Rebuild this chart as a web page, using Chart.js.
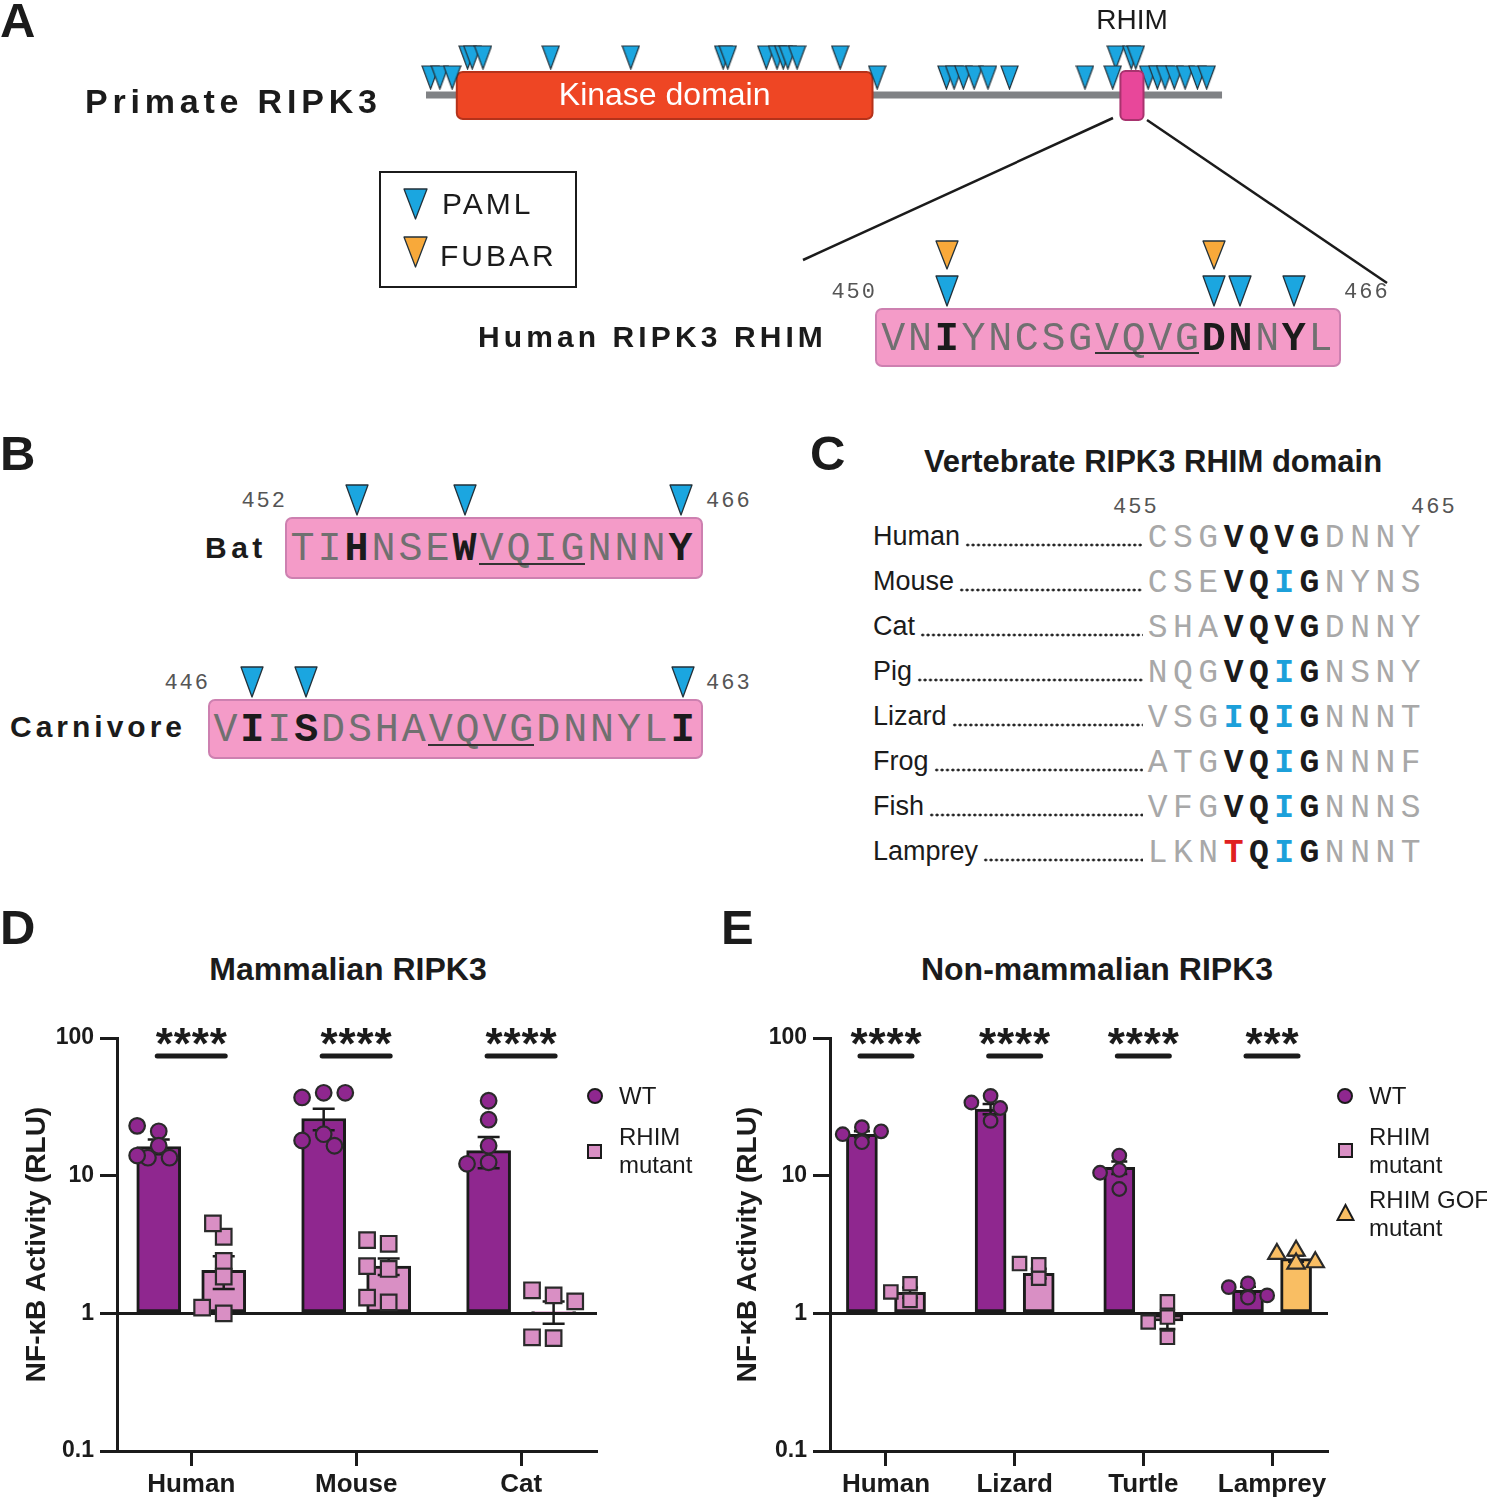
<!DOCTYPE html>
<html>
<head>
<meta charset="utf-8">
<title>RIPK3 RHIM figure</title>
<script src="https://cdn.jsdelivr.net/npm/chart.js@4.4.1/dist/chart.umd.min.js"></script>
<style>
  body { margin: 0; background: #fff; }
  #page { position: relative; width: 1487px; height: 1500px; overflow: hidden;
          font-family: "Liberation Sans", Arial, Helvetica, sans-serif; color: #1b1b1b; }
  .t { position: absolute; white-space: nowrap; }
  .mono { font-family: "Liberation Mono", "Courier New", monospace; }
  .seqbox { position: absolute; box-sizing: border-box; background: #f49bc8;
            border: 2.5px solid #cd80b0; border-radius: 7px; }
  canvas { position: absolute; }
  svg { display: block; }
</style>
</head>
<body>
<div id="page">
  <canvas id="domainChart" width="860" height="130" style="left:400px;top:0"></canvas>
  <svg class="t" style="left:0;top:0" width="1487" height="400">
    <line x1="1113" y1="118" x2="803" y2="260" stroke="#1b1b1b" stroke-width="2.5"/>
    <line x1="1147" y1="120" x2="1387" y2="283" stroke="#1b1b1b" stroke-width="2.5"/>
  </svg>
  <div class="t" style="left:379px;top:171px;width:198px;height:117px;border:2.5px solid #1b1b1b;box-sizing:border-box"></div>
  <canvas id="mamChart" width="720" height="500" style="left:0;top:1000px"></canvas>
  <canvas id="nonChart" width="767" height="500" style="left:720px;top:1000px"></canvas>
</div>

<script>
// ---- data ----

// A: primate RIPK3 domain map (residue numbers)
const proteinLength = 518;
const kinaseDomain = [21, 291];
const rhimDomain = [452, 467];
const pamlSitesRow1 = [4, 10, 18, 294, 339, 344, 350, 357, 366, 380, 429, 447, 470, 476, 481, 487, 494, 502, 508];
const pamlSitesRow2 = [28, 31, 38, 82, 134, 194, 197, 222, 229, 233, 236, 242, 270, 449, 459, 462];

// A / B: RHIM sequences (index of residue in the string)
const humanRhimSeq = "VNIYNCSGVQVGDNNYL";
const humanRhimRange = ["450", "466"];
const humanRhimBold = [2, 12, 13, 15];
const humanRhimCore = [8, 11];
const humanRhimPaml = [2, 12, 13, 15];
const humanRhimFubar = [2, 12];

const batSeq = "TIHNSEWVQIGNNNY";
const batRange = ["452", "466"];
const batBold = [2, 6, 14];
const batCore = [7, 10];
const batPaml = [2, 6, 14];

const carnSeq = "VIISDSHAVQVGDNNYLI";
const carnRange = ["446", "463"];
const carnBold = [1, 3, 17];
const carnCore = [8, 11];
const carnPaml = [1, 3, 17];

// C: vertebrate alignment
const alignNames = ["Human", "Mouse", "Cat", "Pig", "Lizard", "Frog", "Fish", "Lamprey"];
const alignSeqs = ["CSGVQVGDNNY", "CSEVQIGNYNS", "SHAVQVGDNNY", "NQGVQIGNSNY",
                   "VSGIQIGNNNT", "ATGVQIGNNNF", "VFGVQIGNNNS", "LKNTQIGNNNT"];
const alignCore = [3, 6];
const alignRange = ["455", "465"];

// D: mammalian RIPK3, NF-kB activity (RLU)
const mamSpecies = ["Human", "Mouse", "Cat"];
const mamWtMean = [16.3, 26, 15.2];
const mamWtSem = [2.0, 4.6, 3.9];
const mamMutMean = [2.05, 2.2, 1.03];
const mamMutSem = [0.55, 0.3, 0.19];
const mamWtPoints = [[21, 23, 16.5, 13.5, 13.5, 14], [40, 37, 40, 20, 18, 16.5], [35, 25.5, 16.5, 12.5, 12.2]];
const mamMutPoints = [[3.6, 4.5, 2.4, 1.85, 1.0, 1.1], [3.2, 3.4, 2.1, 2.2, 1.2, 1.3], [1.35, 1.47, 1.22, 0.66, 0.67]];
const mamMutKind = ["RHIM mutant", "RHIM mutant", "RHIM mutant"];
const mamStars = ["****", "****", "****"];

// E: non-mammalian RIPK3
const nonSpecies = ["Human", "Lizard", "Turtle", "Lamprey"];
const nonWtMean = [20, 30.5, 11.5, 1.47];
const nonWtSem = [1.0, 2.6, 1.2, 0.09];
const nonMutMean = [1.42, 1.95, 0.88, 2.5];
const nonMutSem = [0.12, 0.16, 0.11, 0.13];
const nonWtPoints = [[17.5, 22.5, 20, 21], [38, 34, 31, 25], [14, 11, 10.5, 8], [1.65, 1.55, 1.3, 1.35]];
const nonMutPoints = [[1.64, 1.43, 1.24], [1.8, 2.25, 2.3], [1.21, 0.94, 0.865, 0.67], [2.85, 2.7, 2.3, 2.35]];
const nonMutKind = ["RHIM mutant", "RHIM mutant", "RHIM mutant", "RHIM GOF mutant"];
const nonStars = ["****", "****", "****", "***"];

const yTicks = [0.1, 1, 10, 100];
const yTickLabels = ["0.1", "1", "10", "100"];

// ---- colours ----
const BLUE = "#1ba6e0";
const ORANGE = "#f8a93a";
const PURPLE = "#8f278f";
const PINK = "#d98fc4";
const GOLD = "#f9be63";
const INK = "#1b1b1b";

const MARK = {
    "WT": { style: "circle", fill: PURPLE },
    "RHIM mutant": { style: "rect", fill: PINK },
    "RHIM GOF mutant": { style: "triangle", fill: GOLD }
};

Chart.defaults.font.family = '"Liberation Sans", Arial, sans-serif';
Chart.defaults.color = INK;

const page = document.getElementById("page");

function addText(x, cy, text, size, opts = {}) {
    let d = document.createElement("div");
    d.className = "t";
    d.textContent = text;
    d.style.fontSize = size + "px";
    d.style.lineHeight = size + "px";
    d.style.top = (cy - size / 2) + "px";
    if (opts.bold) d.style.fontWeight = "bold";
    if (opts.spacing) d.style.letterSpacing = opts.spacing + "px";
    if (opts.color) d.style.color = opts.color;
    if (opts.mono) d.classList.add("mono");
    if (opts.align === "center") {
        d.style.left = x + "px";
        d.style.transform = "translateX(-50%)";
    } else if (opts.align === "right") {
        d.style.right = (1487 - x) + "px";
    } else {
        d.style.left = x + "px";
    }
    page.appendChild(d);
    return d;
}

function addTriangle(cx, top, w, h, color) {
    let d = document.createElement("div");
    d.className = "t";
    d.style.left = (cx - w / 2) + "px";
    d.style.top = top + "px";
    d.innerHTML = `<svg width="${w}" height="${h}"><polygon points="1,1 ${w - 1},1 ${w / 2},${h - 1}" fill="${color}" stroke="#22313a" stroke-width="1.3" stroke-linejoin="round"/></svg>`;
    page.appendChild(d);
}

function addMarker(cx, cy, kind, size) {
    let m = MARK[kind];
    let d = document.createElement("div");
    d.className = "t";
    d.style.left = (cx - size / 2) + "px";
    d.style.top = (cy - size / 2) + "px";
    if (m.style === "triangle") {
        d.innerHTML = `<svg width="${size}" height="${size}"><polygon points="${size / 2},2 ${size - 1.5},${size - 2} 1.5,${size - 2}" fill="${m.fill}" stroke="${INK}" stroke-width="2"/></svg>`;
    } else {
        d.style.width = size + "px";
        d.style.height = size + "px";
        d.style.boxSizing = "border-box";
        d.style.background = m.fill;
        d.style.border = "2.5px solid " + INK;
        if (m.style === "circle") d.style.borderRadius = "50%";
    }
    page.appendChild(d);
}

// sequence box with residue marks above it
function addSeqBox(b) {
    let box = document.createElement("div");
    box.className = "seqbox";
    box.style.left = b.left + "px";
    box.style.top = b.top + "px";
    box.style.width = b.width + "px";
    box.style.height = b.height + "px";
    page.appendChild(box);

    let cy = b.top + b.height / 2 + 2;
    b.seq.split("").forEach((ch, i) => {
        let bold = b.bold.includes(i);
        addText(b.start + (i + 0.5) * b.pitch, cy, ch, b.font,
            { mono: true, align: "center", bold: bold, color: bold ? INK : "#707070" });
    });

    let u = document.createElement("div");
    u.className = "t";
    u.style.left = (b.start + b.core[0] * b.pitch + 1) + "px";
    u.style.width = ((b.core[1] - b.core[0] + 1) * b.pitch - 2) + "px";
    u.style.top = (cy + b.font * 0.27 + 2) + "px";
    u.style.height = "2px";
    u.style.background = "#333";
    page.appendChild(u);

    b.paml.forEach(i => addTriangle(b.start + (i + 0.5) * b.pitch, b.top - 33, 24, 32, BLUE));
    (b.fubar || []).forEach(i => addTriangle(b.start + (i + 0.5) * b.pitch, b.top - 68, 24, 30, ORANGE));

    addText(b.left + 2, b.top - 15, b.range[0], 22, { mono: true, align: "right", color: "#555", spacing: 2 });
    addText(b.left + b.width + 3, b.top - 15, b.range[1], 22, { mono: true, color: "#555", spacing: 2 });
}

// ---- panel letters and titles ----
addText(0, 20, "A", 49, { bold: true });
addText(0, 453, "B", 49, { bold: true });
addText(810, 453, "C", 49, { bold: true });
addText(0, 927, "D", 49, { bold: true });
addText(721, 927, "E", 49, { bold: true });

addText(85, 101, "Primate RIPK3", 34, { bold: true, spacing: 4.8 });
addText(478, 337, "Human RIPK3 RHIM", 30, { bold: true, spacing: 4.1 });
addText(205, 548, "Bat", 30, { bold: true, spacing: 4.5 });
addText(10, 727, "Carnivore", 30, { bold: true, spacing: 4 });

// legend of panel A
addTriangle(415, 188, 25, 32, BLUE);
addText(442, 204, "PAML", 30, { spacing: 3 });
addTriangle(415, 236, 25, 32, ORANGE);
addText(440, 256, "FUBAR", 30, { spacing: 3 });

addSeqBox({ left: 875, top: 308, width: 466, height: 59, start: 880, pitch: 26.7, font: 40,
    seq: humanRhimSeq, bold: humanRhimBold, core: humanRhimCore, paml: humanRhimPaml,
    fubar: humanRhimFubar, range: humanRhimRange });
addSeqBox({ left: 285, top: 517, width: 418, height: 62, start: 289, pitch: 27, font: 40,
    seq: batSeq, bold: batBold, core: batCore, paml: batPaml, range: batRange });
addSeqBox({ left: 208, top: 699, width: 495, height: 60, start: 212, pitch: 26.9, font: 40,
    seq: carnSeq, bold: carnBold, core: carnCore, paml: carnPaml, range: carnRange });

// ---- panel C alignment ----
addText(1153, 461, "Vertebrate RIPK3 RHIM domain", 31, { bold: true, align: "center" });
addText(1113, 508, alignRange[0], 22, { mono: true, color: "#555", spacing: 2 });
addText(1411, 508, alignRange[1], 22, { mono: true, color: "#555", spacing: 2 });

alignNames.forEach((name, r) => {
    let cy = 536 + r * 45;
    let label = addText(873, cy, name, 27);
    let dotsLeft = 873 + label.offsetWidth + 5;
    let dots = document.createElement("div");
    dots.className = "t";
    dots.style.left = dotsLeft + "px";
    dots.style.width = (1143 - dotsLeft) + "px";
    dots.style.top = (cy + 7) + "px";
    dots.style.height = "4px";
    dots.style.backgroundImage = "radial-gradient(circle, #222 1.3px, rgba(0,0,0,0) 1.7px)";
    dots.style.backgroundSize = "5.4px 4px";
    dots.style.backgroundRepeat = "repeat-x";
    page.appendChild(dots);

    alignSeqs[r].split("").forEach((ch, i) => {
        let core = i >= alignCore[0] && i <= alignCore[1];
        let color = "#a8a8a8";
        if (core) color = ch === "I" ? "#1ca0da" : ch === "T" ? "#e0201f" : INK;
        addText(1145 + (i + 0.5) * 25.3, cy + 2, ch, 33, { mono: true, align: "center", bold: core, color: color });
    });
});

// ---- panel A domain map (Chart.js scatter on residue axis) ----
function makeTri(w, h, color) {
    let c = document.createElement("canvas");
    c.width = w;
    c.height = h;
    let g = c.getContext("2d");
    g.beginPath();
    g.moveTo(1, 1);
    g.lineTo(w - 1, 1);
    g.lineTo(w / 2, h - 1);
    g.closePath();
    g.fillStyle = color;
    g.fill();
    g.strokeStyle = "#22313a";
    g.lineWidth = 1.2;
    g.stroke();
    return c;
}
const siteTri = makeTri(19, 25, BLUE);

const domainPlugin = {
    id: "domains",
    beforeDatasetsDraw(chart) {
        const { ctx, scales: { x } } = chart;
        ctx.save();
        let a = x.getPixelForValue(1), b = x.getPixelForValue(proteinLength);
        ctx.fillStyle = "#808285";
        ctx.fillRect(a, 91.5, b - a, 7);
        let k0 = x.getPixelForValue(kinaseDomain[0]), k1 = x.getPixelForValue(kinaseDomain[1]);
        ctx.beginPath();
        ctx.roundRect(k0, 72, k1 - k0, 47, 6);
        ctx.fillStyle = "#ee4624";
        ctx.fill();
        ctx.lineWidth = 2;
        ctx.strokeStyle = "#b5321a";
        ctx.stroke();
        ctx.restore();
    },
    afterDatasetsDraw(chart) {
        const { ctx, scales: { x } } = chart;
        ctx.save();
        let k0 = x.getPixelForValue(kinaseDomain[0]), k1 = x.getPixelForValue(kinaseDomain[1]);
        ctx.fillStyle = "#fff";
        ctx.font = '32px "Liberation Sans", Arial, sans-serif';
        ctx.textAlign = "center";
        ctx.textBaseline = "middle";
        ctx.fillText("Kinase domain", (k0 + k1) / 2, 96);

        let r0 = x.getPixelForValue(rhimDomain[0]), r1 = x.getPixelForValue(rhimDomain[1]);
        ctx.beginPath();
        ctx.roundRect(r0, 71, r1 - r0, 49, 5);
        ctx.fillStyle = "#e8479a";
        ctx.fill();
        ctx.lineWidth = 2;
        ctx.strokeStyle = "#a8336e";
        ctx.stroke();
        ctx.fillStyle = INK;
        ctx.font = '28px "Liberation Sans", Arial, sans-serif';
        ctx.fillText("RHIM", (r0 + r1) / 2, 21);
        ctx.restore();
    }
};

new Chart(document.getElementById("domainChart"), {
    type: "scatter",
    data: {
        datasets: [
            { data: pamlSitesRow1.map(p => ({ x: p, y: 0 })), pointStyle: siteTri, pointRadius: 10 },
            { data: pamlSitesRow2.map(p => ({ x: p, y: 1 })), pointStyle: siteTri, pointRadius: 10 }
        ]
    },
    options: {
        responsive: false,
        animation: false,
        layout: { padding: 0, autoPadding: false },
        plugins: { legend: { display: false }, tooltip: { enabled: false } },
        scales: {
            x: { type: "linear", display: false, min: -15.89, max: 542.66 },
            y: { type: "linear", display: false, min: -2.625, max: 3.875 }
        }
    },
    plugins: [domainPlugin]
});

// ---- panels D and E ----
const PX_PER_DECADE = 137.7;

// column-scatter spread so points overlap less
function spread(values, unitPx, diam) {
    let placed = [];
    return values.map(v => {
        let ly = Math.log10(v) * PX_PER_DECADE;
        let step = diam * 0.6;
        let best = 0, bestScore = -1;
        for (let k of [0, -1, 1, -2, 2]) {
            let minD = Infinity;
            placed.forEach(p => { minD = Math.min(minD, Math.hypot((k - p.k) * step, ly - p.ly)); });
            if (minD >= diam * 0.8) { best = k; bestScore = minD; break; }
            if (minD > bestScore) { bestScore = minD; best = k; }
        }
        placed.push({ k: best, ly: ly });
        return best * step / unitPx;
    });
}

const errorBarPlugin = {
    id: "errorBars",
    afterDatasetDraw(chart, args, opts) {
        const ds = chart.data.datasets[args.index];
        if (!ds.sem) return;
        const { ctx, scales: { y } } = chart;
        ctx.save();
        ctx.strokeStyle = INK;
        ctx.lineWidth = 2.5;
        args.meta.data.forEach((bar, i) => {
            let m = ds.data[i].y, s = ds.sem[i];
            let top = y.getPixelForValue(m + s), bot = y.getPixelForValue(m - s);
            ctx.beginPath();
            ctx.moveTo(bar.x, top);
            ctx.lineTo(bar.x, bot);
            ctx.moveTo(bar.x - opts.cap, top);
            ctx.lineTo(bar.x + opts.cap, top);
            ctx.moveTo(bar.x - opts.cap, bot);
            ctx.lineTo(bar.x + opts.cap, bot);
            ctx.stroke();
        });
        ctx.restore();
    }
};

const sigPlugin = {
    id: "sigBars",
    afterDraw(chart, args, opts) {
        const { ctx, chartArea, scales: { x } } = chart;
        ctx.save();
        ctx.fillStyle = INK;
        ctx.strokeStyle = INK;
        ctx.lineWidth = 5;
        ctx.lineCap = "round";
        ctx.font = 'bold 44px "Liberation Sans", Arial, sans-serif';
        ctx.textAlign = "center";
        ctx.textBaseline = "alphabetic";
        let mt = ctx.measureText("*");
        let base = chartArea.top - 2 + (mt.actualBoundingBoxAscent - mt.actualBoundingBoxDescent) / 2;
        opts.stars.forEach((s, i) => {
            let cx = x.getPixelForValue(i);
            ctx.beginPath();
            ctx.moveTo(cx - opts.half, chartArea.top + 18);
            ctx.lineTo(cx + opts.half, chartArea.top + 18);
            ctx.stroke();
            for (let j = 0; j < s.length; j++) {
                ctx.fillText("*", cx + (j - (s.length - 1) / 2) * 18, base);
            }
        });
        ctx.restore();
    }
};

function makeBarChart(id, c) {
    let datasets = [];
    datasets.push({
        type: "bar", label: "WT",
        data: c.wtMean.map((v, i) => ({ x: i - c.shift, y: v })),
        sem: c.wtSem,
        backgroundColor: PURPLE, borderColor: INK, borderWidth: 3, borderSkipped: false,
        barThickness: c.barWidth, grouped: false, base: 1, order: 2
    });
    datasets.push({
        type: "bar", label: "mutant",
        data: c.mutMean.map((v, i) => ({ x: i + c.shift, y: v })),
        sem: c.mutSem,
        backgroundColor: c.mutKind.map(k => MARK[k].fill), borderColor: INK, borderWidth: 3, borderSkipped: false,
        barThickness: c.barWidth, grouped: false, base: 1, order: 2
    });

    let wt = [], mut = [], mutStyle = [], mutFill = [], mutRadius = [];
    c.wtPoints.forEach((vals, i) => {
        let off = spread(vals, c.unitPx, c.diam);
        vals.forEach((v, j) => wt.push({ x: i - c.shift + off[j], y: v }));
    });
    c.mutPoints.forEach((vals, i) => {
        let off = spread(vals, c.unitPx, c.diam);
        let m = MARK[c.mutKind[i]];
        vals.forEach((v, j) => {
            mut.push({ x: i + c.shift + off[j], y: v });
            mutStyle.push(m.style);
            mutFill.push(m.fill);
            mutRadius.push(m.style === "rect" ? c.rectR : c.triR);
        });
    });
    datasets.push({
        type: "scatter", data: wt, order: 0,
        pointStyle: "circle", pointRadius: c.circleR,
        pointBackgroundColor: PURPLE, pointBorderColor: "#2a2a2a", pointBorderWidth: 2.2
    });
    datasets.push({
        type: "scatter", data: mut, order: 0,
        pointStyle: mutStyle, pointRadius: mutRadius,
        pointBackgroundColor: mutFill, pointBorderColor: "#2a2a2a", pointBorderWidth: 2.2
    });

    return new Chart(document.getElementById(id), {
        type: "bar",
        data: { datasets: datasets },
        options: {
            responsive: false,
            animation: false,
            layout: { padding: { top: 38, right: c.padRight, left: 0, bottom: 0 } },
            plugins: {
                legend: { display: false },
                tooltip: { enabled: false },
                errorBars: { cap: c.cap },
                sigBars: { stars: c.stars, half: c.sigHalf }
            },
            scales: {
                x: {
                    type: "linear", min: c.xMin, max: c.xMax, offset: false,
                    afterBuildTicks: s => { s.ticks = c.species.map((n, i) => ({ value: i })); },
                    afterFit: s => { s.height = 49; },
                    ticks: {
                        callback: v => c.species[v], autoSkip: false, maxRotation: 0, padding: 3,
                        font: { size: 26, weight: "bold" }, color: INK
                    },
                    grid: { offset: false, drawOnChartArea: false, drawTicks: true, tickLength: 15, tickWidth: 3, tickColor: INK },
                    border: { color: INK, width: 3 }
                },
                y: {
                    type: "logarithmic", min: 0.1, max: 100, beginAtZero: false,
                    afterBuildTicks: s => { s.ticks = yTicks.map(v => ({ value: v, major: true })); },
                    afterFit: s => { s.width = c.axisWidth; },
                    ticks: {
                        callback: v => yTickLabels[yTicks.indexOf(v)], padding: 6,
                        font: { size: 23, weight: "bold" }, color: INK
                    },
                    grid: {
                        color: ctx => (ctx.tick && ctx.tick.value === 1 ? INK : "rgba(0,0,0,0)"),
                        lineWidth: 3, drawTicks: true, tickLength: 17, tickWidth: 3, tickColor: INK
                    },
                    border: { color: INK, width: 3 },
                    title: {
                        display: true, text: "NF-κB Activity (RLU)", color: INK,
                        font: { size: 28, weight: "bold" }, padding: { top: c.titlePad, bottom: 0 }
                    }
                }
            }
        },
        plugins: [errorBarPlugin, sigPlugin]
    });
}

makeBarChart("mamChart", {
    species: mamSpecies, wtMean: mamWtMean, wtSem: mamWtSem, mutMean: mamMutMean, mutSem: mamMutSem,
    wtPoints: mamWtPoints, mutPoints: mamMutPoints, mutKind: mamMutKind, stars: mamStars,
    xMin: -0.45, xMax: 2.46, shift: 0.197, unitPx: 165, barWidth: 44, diam: 18,
    circleR: 7.8, rectR: 11, triR: 10, cap: 11, sigHalf: 34,
    axisWidth: 117, padRight: 123, titlePad: 20
});

makeBarChart("nonChart", {
    species: nonSpecies, wtMean: nonWtMean, wtSem: nonWtSem, mutMean: nonMutMean, mutSem: nonMutSem,
    wtPoints: nonWtPoints, mutPoints: nonMutPoints, mutKind: nonMutKind, stars: nonStars,
    xMin: -0.435, xMax: 3.435, shift: 0.187, unitPx: 128.7, barWidth: 31, diam: 16,
    circleR: 6.8, rectR: 9.5, triR: 10, cap: 8, sigHalf: 26,
    axisWidth: 110, padRight: 159, titlePad: 11
});

addText(348, 969, "Mammalian RIPK3", 32, { bold: true, align: "center" });
addText(1097, 969, "Non-mammalian RIPK3", 32, { bold: true, align: "center" });

// legends of D and E
addMarker(595, 1096, "WT", 16);
addText(619, 1096, "WT", 24);
addMarker(594, 1151, "RHIM mutant", 15);
addText(619, 1137, "RHIM", 24);
addText(619, 1165, "mutant", 24);

addMarker(1345, 1096, "WT", 16);
addText(1369, 1096, "WT", 24);
addMarker(1345, 1150, "RHIM mutant", 15);
addText(1369, 1137, "RHIM", 24);
addText(1369, 1165, "mutant", 24);
addMarker(1345, 1212, "RHIM GOF mutant", 19);
addText(1369, 1200, "RHIM GOF", 24);
addText(1369, 1228, "mutant", 24);
</script>
</body>
</html>
